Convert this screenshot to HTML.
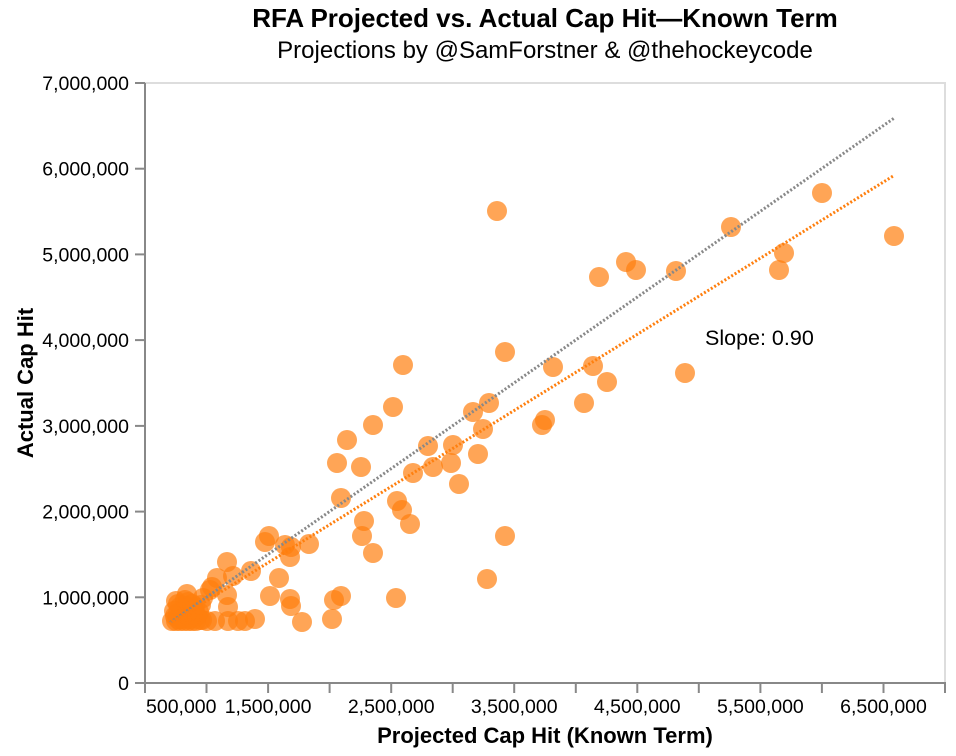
<!DOCTYPE html>
<html>
<head>
<meta charset="utf-8">
<style>
  html, body { margin: 0; padding: 0; background: #ffffff; }
  svg { display: block; }
  text { font-family: "Liberation Sans", Helvetica, Arial, sans-serif; fill: #000; }
</style>
</head>
<body>
<svg width="956" height="756" viewBox="0 0 956 756" xmlns="http://www.w3.org/2000/svg">
  <rect x="0" y="0" width="956" height="756" fill="#ffffff"/>
  <text x="545" y="27" text-anchor="middle" font-size="26" font-weight="bold">RFA Projected vs. Actual Cap Hit—Known Term</text>
  <text x="545" y="58" text-anchor="middle" font-size="24">Projections by @SamForstner &amp; @thehockeycode</text>
  <rect x="145" y="83" width="800" height="600" fill="none" stroke="#dddddd" stroke-width="2"/>
  <g fill="#ff7f0e" fill-opacity="0.7">
    <circle cx="497" cy="211" r="10"/>
    <circle cx="822" cy="193" r="10"/>
    <circle cx="731" cy="227" r="10"/>
    <circle cx="894" cy="236" r="10"/>
    <circle cx="626" cy="262" r="10"/>
    <circle cx="636" cy="270" r="10"/>
    <circle cx="676" cy="271" r="10"/>
    <circle cx="599" cy="277" r="10"/>
    <circle cx="784" cy="253" r="10"/>
    <circle cx="779" cy="270" r="10"/>
    <circle cx="505" cy="352" r="10"/>
    <circle cx="403" cy="365" r="10"/>
    <circle cx="685" cy="373" r="10"/>
    <circle cx="553" cy="367" r="10"/>
    <circle cx="593" cy="366" r="10"/>
    <circle cx="607" cy="382" r="10"/>
    <circle cx="584" cy="403" r="10"/>
    <circle cx="489" cy="403" r="10"/>
    <circle cx="473" cy="412" r="10"/>
    <circle cx="393" cy="407" r="10"/>
    <circle cx="545" cy="420" r="10"/>
    <circle cx="542" cy="425" r="10"/>
    <circle cx="373" cy="425" r="10"/>
    <circle cx="483" cy="429" r="10"/>
    <circle cx="347" cy="440" r="10"/>
    <circle cx="428" cy="446" r="10"/>
    <circle cx="453" cy="445" r="10"/>
    <circle cx="478" cy="454" r="10"/>
    <circle cx="337" cy="463" r="10"/>
    <circle cx="361" cy="467" r="10"/>
    <circle cx="451" cy="463" r="10"/>
    <circle cx="433" cy="467" r="10"/>
    <circle cx="413" cy="473" r="10"/>
    <circle cx="459" cy="484" r="10"/>
    <circle cx="341" cy="498" r="10"/>
    <circle cx="397" cy="501" r="10"/>
    <circle cx="402" cy="510" r="10"/>
    <circle cx="364" cy="521" r="10"/>
    <circle cx="410" cy="524" r="10"/>
    <circle cx="362" cy="536" r="10"/>
    <circle cx="505" cy="536" r="10"/>
    <circle cx="373" cy="553" r="10"/>
    <circle cx="487" cy="579" r="10"/>
    <circle cx="341" cy="596" r="10"/>
    <circle cx="334" cy="600" r="10"/>
    <circle cx="396" cy="598" r="10"/>
    <circle cx="332" cy="619" r="10"/>
    <circle cx="302" cy="622" r="10"/>
    <circle cx="269" cy="536" r="10"/>
    <circle cx="265" cy="542" r="10"/>
    <circle cx="285" cy="545" r="10"/>
    <circle cx="291" cy="547" r="10"/>
    <circle cx="309" cy="544" r="10"/>
    <circle cx="290" cy="557" r="10"/>
    <circle cx="227" cy="562" r="10"/>
    <circle cx="251" cy="571" r="10"/>
    <circle cx="217" cy="578" r="10"/>
    <circle cx="233" cy="576" r="10"/>
    <circle cx="279" cy="578" r="10"/>
    <circle cx="210" cy="590" r="10"/>
    <circle cx="227" cy="595" r="10"/>
    <circle cx="270" cy="596" r="10"/>
    <circle cx="290" cy="599" r="10"/>
    <circle cx="291" cy="606" r="10"/>
    <circle cx="228" cy="607" r="10"/>
    <circle cx="255" cy="619" r="10"/>
    <circle cx="238" cy="621" r="10"/>
    <circle cx="245" cy="621" r="10"/>
    <circle cx="228" cy="621" r="10"/>
    <circle cx="215" cy="621" r="10"/>
    <circle cx="207" cy="621" r="10"/>
    <circle cx="202" cy="620" r="10"/>
    <circle cx="187" cy="594" r="10"/>
    <circle cx="212" cy="587" r="10"/>
    <circle cx="178" cy="604" r="10"/>
    <circle cx="188" cy="602" r="10"/>
    <circle cx="195" cy="607" r="10"/>
    <circle cx="203" cy="598" r="10"/>
    <circle cx="176" cy="601" r="10"/>
    <circle cx="172" cy="621" r="10"/>
    <circle cx="176" cy="621" r="10"/>
    <circle cx="180" cy="621" r="10"/>
    <circle cx="184" cy="621" r="10"/>
    <circle cx="188" cy="621" r="10"/>
    <circle cx="192" cy="621" r="10"/>
    <circle cx="196" cy="621" r="10"/>
    <circle cx="200" cy="620" r="10"/>
    <circle cx="178" cy="613" r="10"/>
    <circle cx="183" cy="610" r="10"/>
    <circle cx="188" cy="612" r="10"/>
    <circle cx="193" cy="615" r="10"/>
    <circle cx="186" cy="606" r="10"/>
    <circle cx="199" cy="612" r="10"/>
    <circle cx="182" cy="617" r="10"/>
    <circle cx="175" cy="616" r="10"/>
    <circle cx="190" cy="617" r="10"/>
    <circle cx="197" cy="616" r="10"/>
    <circle cx="174" cy="611" r="10"/>
    <circle cx="180" cy="607" r="10"/>
    <circle cx="185" cy="600" r="10"/>
    <circle cx="192" cy="604" r="10"/>
    <circle cx="182" cy="619" r="10"/>
    <circle cx="190" cy="619" r="10"/>
    <circle cx="178" cy="619" r="10"/>
    <circle cx="186" cy="615" r="10"/>
    <circle cx="194" cy="610" r="10"/>
    <circle cx="201" cy="605" r="10"/>
  </g>
  <line x1="170" y1="622.7" x2="895" y2="117.5" stroke="#888888" stroke-width="3" stroke-dasharray="2,2"/>
  <line x1="170" y1="623.4" x2="894" y2="175.5" stroke="#ff7f0e" stroke-width="3" stroke-dasharray="2,2"/>
  <text x="705" y="345" font-size="21.5">Slope: 0.90</text>
  <g stroke="#888888" stroke-width="2">
    <line x1="145" y1="83" x2="145" y2="684"/>
    <line x1="135" y1="83" x2="145" y2="83"/>
    <line x1="135" y1="168.7" x2="145" y2="168.7"/>
    <line x1="135" y1="254.4" x2="145" y2="254.4"/>
    <line x1="135" y1="340.1" x2="145" y2="340.1"/>
    <line x1="135" y1="425.9" x2="145" y2="425.9"/>
    <line x1="135" y1="511.6" x2="145" y2="511.6"/>
    <line x1="135" y1="597.3" x2="145" y2="597.3"/>
    <line x1="135" y1="683" x2="145" y2="683"/>
  </g>
  <g font-size="19.5" text-anchor="end">
    <text x="129" y="90">7,000,000</text>
    <text x="129" y="175.7">6,000,000</text>
    <text x="129" y="261.4">5,000,000</text>
    <text x="129" y="347.1">4,000,000</text>
    <text x="129" y="432.9">3,000,000</text>
    <text x="129" y="518.6">2,000,000</text>
    <text x="129" y="604.3">1,000,000</text>
    <text x="129" y="690">0</text>
  </g>
  <text transform="translate(33,383) rotate(-90)" text-anchor="middle" font-size="22" font-weight="bold">Actual Cap Hit</text>
  <g stroke="#888888" stroke-width="2">
    <line x1="144" y1="683" x2="946" y2="683"/>
    <line x1="145" y1="683" x2="145" y2="693"/>
    <line x1="206.5" y1="683" x2="206.5" y2="693"/>
    <line x1="268.1" y1="683" x2="268.1" y2="693"/>
    <line x1="329.6" y1="683" x2="329.6" y2="693"/>
    <line x1="391.2" y1="683" x2="391.2" y2="693"/>
    <line x1="452.7" y1="683" x2="452.7" y2="693"/>
    <line x1="514.2" y1="683" x2="514.2" y2="693"/>
    <line x1="575.8" y1="683" x2="575.8" y2="693"/>
    <line x1="637.3" y1="683" x2="637.3" y2="693"/>
    <line x1="698.8" y1="683" x2="698.8" y2="693"/>
    <line x1="760.4" y1="683" x2="760.4" y2="693"/>
    <line x1="821.9" y1="683" x2="821.9" y2="693"/>
    <line x1="883.5" y1="683" x2="883.5" y2="693"/>
    <line x1="945" y1="683" x2="945" y2="693"/>
  </g>
  <g font-size="19.5" text-anchor="middle">
    <text x="146" y="713" text-anchor="start">500,000</text>
    <text x="268.1" y="713">1,500,000</text>
    <text x="391.2" y="713">2,500,000</text>
    <text x="514.2" y="713">3,500,000</text>
    <text x="637.3" y="713">4,500,000</text>
    <text x="760.4" y="713">5,500,000</text>
    <text x="883.5" y="713">6,500,000</text>
  </g>
  <text x="545" y="743" text-anchor="middle" font-size="22" font-weight="bold">Projected Cap Hit (Known Term)</text>
</svg>
</body>
</html>
